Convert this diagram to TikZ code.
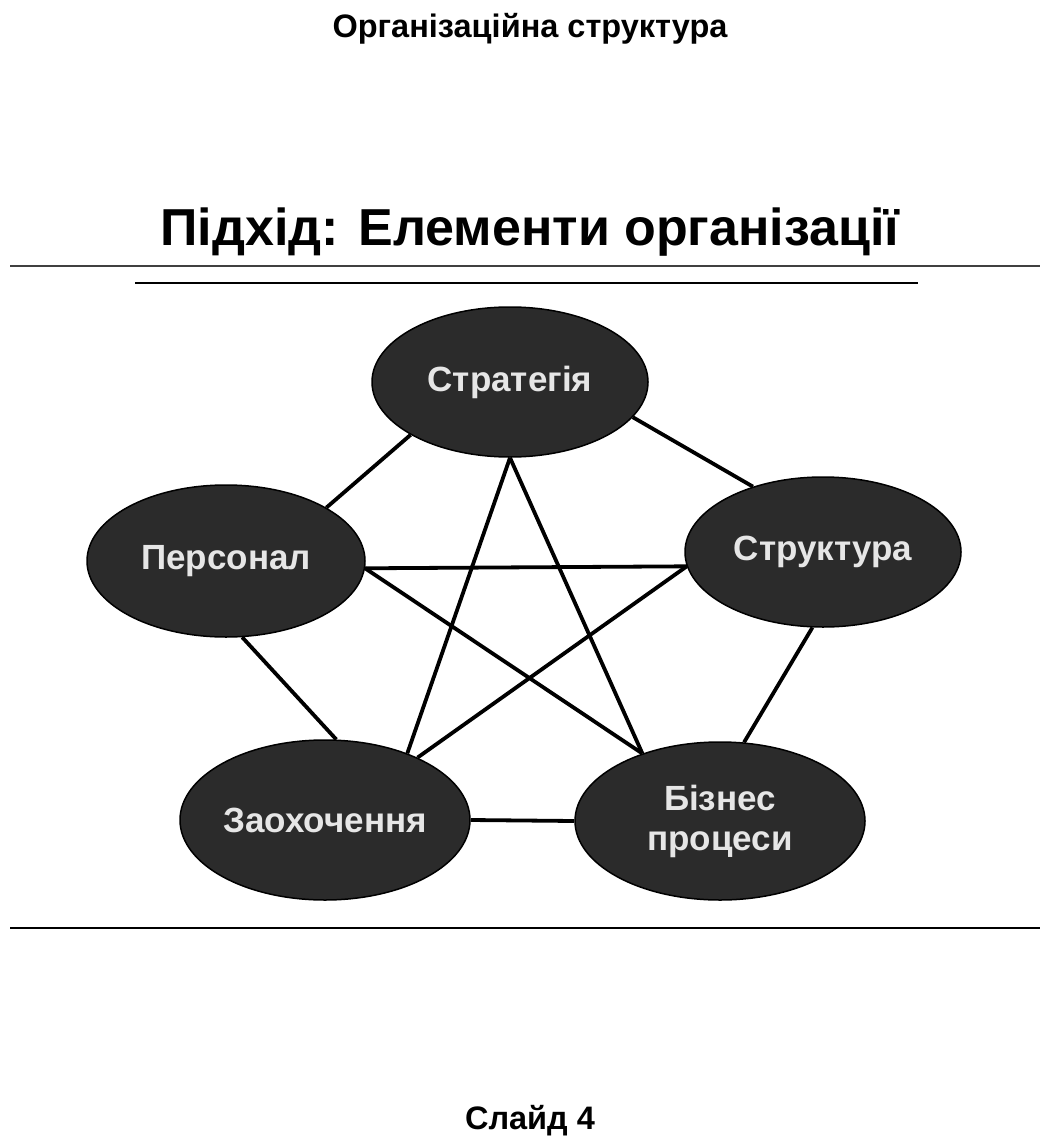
\documentclass[tikz,border=0pt]{standalone}
\usepackage{fontspec}
\setmainfont{Liberation Sans}
\usetikzlibrary{shapes.geometric}

\definecolor{blobfill}{HTML}{2B2B2B}
\definecolor{blobtext}{HTML}{E6E6E6}

\begin{document}
\begin{tikzpicture}[x=1pt,y=-1pt,link/.style={line width=3.8pt}]
            \useasboundingbox (0,0) rectangle (1048,1147);
            \node[anchor=base] (head) at (530,38) {\fontsize{32.5}{38}\selectfont\bfseries Організаційна структура};
            \node[anchor=base] (title) at (530,246) {\fontsize{52}{60}\selectfont\bfseries Підхід: Елементи організації};
            \draw[line width=1.8pt, black!75] (10,266) -- (1040,266);
            \draw[line width=2.6pt] (135,283) -- (918,283);
            \draw[line width=2.2pt] (10,928) -- (1040,928);
            \node[anchor=base] (slide) at (530,1129) {\fontsize{32.5}{38}\selectfont\bfseries Слайд 4};
            \begin{scope}[every node/.style={ellipse,draw=black,fill=blobfill,text=blobtext,line width=1.5pt,font=\fontsize{35}{40}\selectfont\bfseries,align=center,inner sep=0pt}]
                \node[minimum width=276pt,minimum height=150pt] (strat) at (510,382) {Стратегія};
                \node[minimum width=278pt,minimum height=152pt] (pers) at (226,561) {Персонал};
                \node[minimum width=276pt,minimum height=150pt] (struc) at (823,552) {Структура};
                \node[minimum width=290pt,minimum height=160pt] (zao) at (325,820) {Заохочення};
                \node[minimum width=290pt,minimum height=158pt] (biz) at (720,821) {Бізнес\\процеси};
            \end{scope}
            \draw[link] (strat.208) -- (pers.28);
            \draw[link] (strat.344) -- (struc.137);
            \draw[link] (strat.south) -- (zao.39);
            \draw[link] (strat.south) -- (biz.139);
            \draw[link] (pers.-3) -- (struc.186);
            \draw[link] (pers.-3) -- (biz.139);
            \draw[link] (struc.186) -- (zao.34);
            \draw[link] (struc.262) -- (biz.73);
            \draw[link] (pers.-78) -- (zao.82);
            \draw[link] (zao.east) -- (biz.west);
        \end{tikzpicture}
\end{document}
